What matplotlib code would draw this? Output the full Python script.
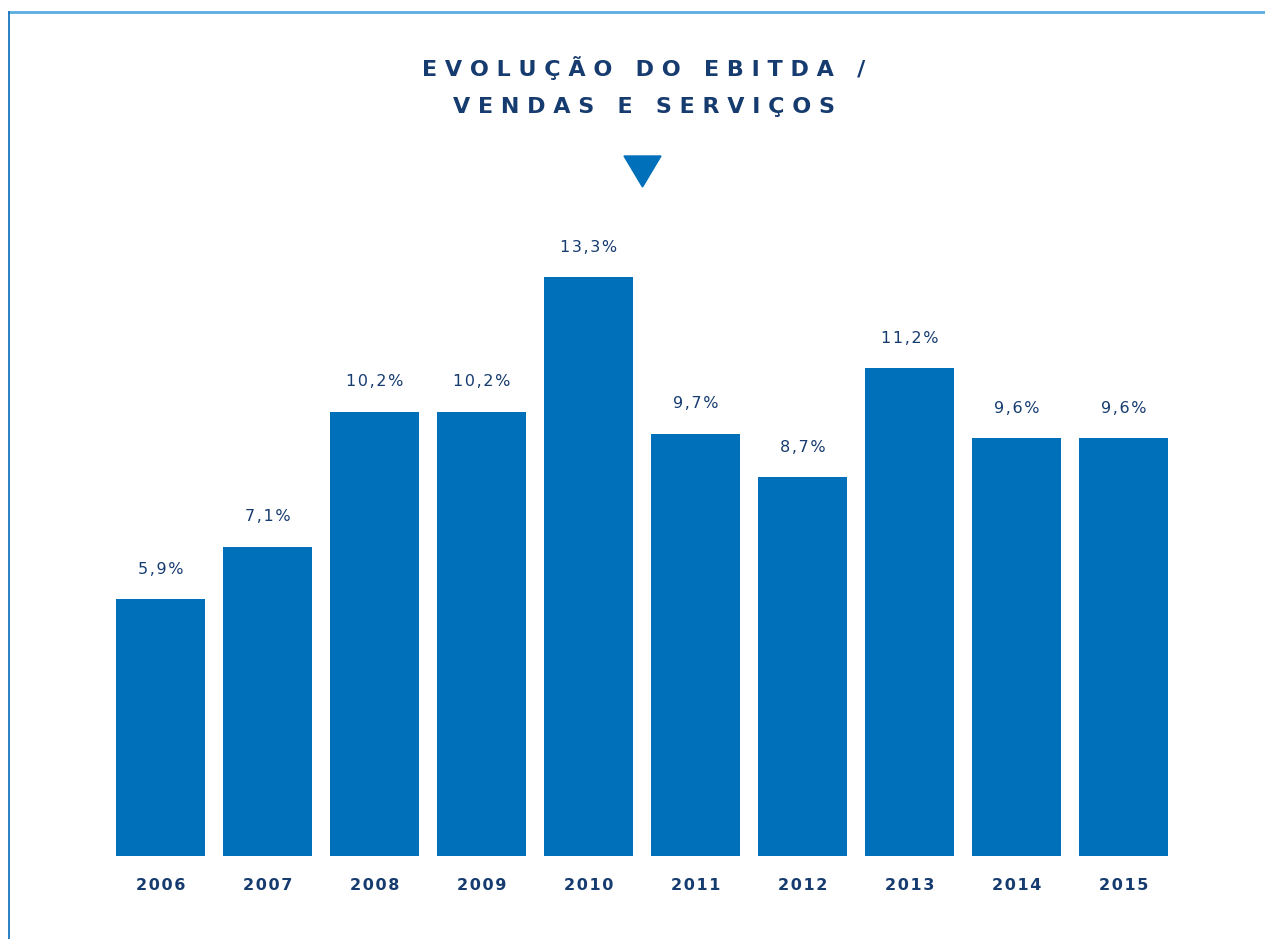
import matplotlib.pyplot as plt
from matplotlib.lines import Line2D
from matplotlib.patches import Polygon

# data
years = ["2006", "2007", "2008", "2009", "2010", "2011", "2012", "2013", "2014", "2015"]
ebitda_pct = [5.9, 7.1, 10.2, 10.2, 13.3, 9.7, 8.7, 11.2, 9.6, 9.6]
title_lines = ["EVOLUÇÃO DO EBITDA /", "VENDAS E SERVIÇOS"]

bar_color = "#0070BA"
text_color = "#163B6F"
W, H = 1265, 939


def spaced(s, sep="\u200a"):
    return sep.join(s)


fig = plt.figure(figsize=(W / 100, H / 100), dpi=100)
ax = fig.add_axes([0, 0, 1, 1])

x = list(range(len(years)))
ax.bar(x, ebitda_pct, width=0.832, color=bar_color)

# pixel mapping: bar centres at 160.5 + 107*i, baseline 83 px from bottom, 43.53 px per unit
ppu = 43.53
ax.set_xlim(-160.5 / 107, (W - 160.5) / 107)
ax.set_ylim(-83 / ppu, (H - 83) / ppu)
ax.axis("off")

for i, v in enumerate(ebitda_pct):
    lbl = f"{v:.1f}".replace(".", ",") + "%"
    ax.text(i, v + 30 / ppu, spaced(lbl), ha="center", va="center",
            fontsize=11.5, color=text_color, fontweight="medium")
    ax.text(i, -29 / ppu, spaced(years[i]), ha="center", va="center",
            fontsize=11.5, color=text_color, fontweight="semibold")

# title
for k, line in enumerate(title_lines):
    fig.text(644 / W, 1 - (68 + 39 * k) / H, spaced(line, " "), ha="center", va="center",
             fontsize=16, color=text_color, fontweight="semibold")

# triangle marker under title
tri = Polygon([(624 / W, 1 - 156 / H), (661 / W, 1 - 156 / H), (642.5 / W, 1 - 187 / H)],
              closed=True, transform=fig.transFigure, color=bar_color)
fig.patches.append(tri)

# frame lines
fig.lines.append(Line2D([9 / W, 1], [1 - 12 / H, 1 - 12 / H], transform=fig.transFigure,
                        color="#5AAEE0", lw=2))
fig.lines.append(Line2D([9 / W, 9 / W], [0, 1 - 12 / H], transform=fig.transFigure,
                        color="#1A75BC", lw=1.3))

fig.savefig("out.png", dpi=100)
